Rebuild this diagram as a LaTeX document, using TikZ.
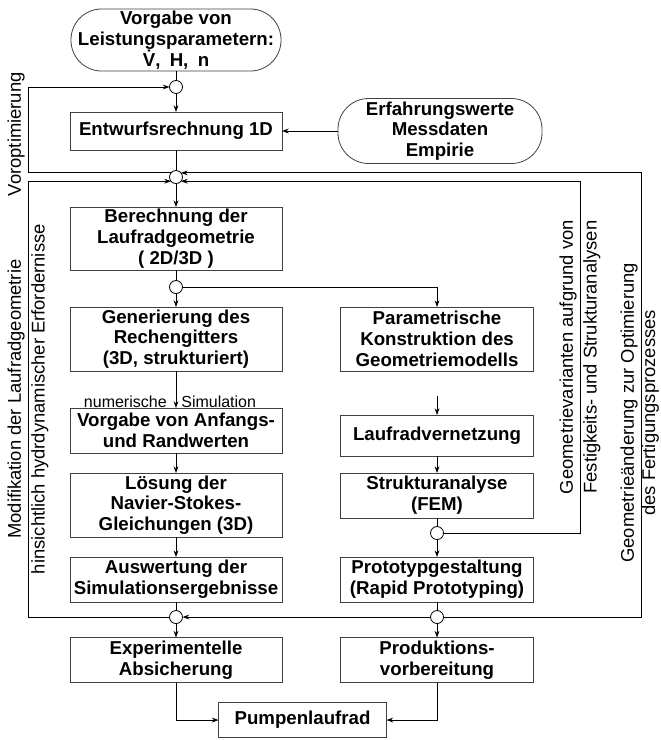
\documentclass[tikz,border=0pt]{standalone}
\usepackage{fontspec}
\setmainfont{Liberation Sans}
\usetikzlibrary{arrows.meta, positioning, calc}

\begin{document}
\begin{tikzpicture}[
  x=0.75pt, y=-0.75pt,
  font=\bfseries\fontsize{14}{15.6}\selectfont,
  every node/.append style={outer sep=0pt},
  stepbox/.style={rectangle, draw=black!75, line width=0.6pt, align=center,
    inner sep=1.5pt},
  leftbox/.style={stepbox, minimum width=159pt},
  rightbox/.style={stepbox, minimum width=144.75pt},
  terminal/.style={rectangle, rounded corners=23pt, draw=black!75,
    line width=0.6pt, align=center, inner sep=1.5pt},
  junction/.style={circle, draw, line width=0.6pt, minimum size=9.75pt,
    inner sep=0pt},
  conn/.style={line width=0.7pt},
  arrow/.style={-{Stealth[length=5pt, width=3.6pt]}, line width=0.7pt},
  looplabel/.style={font=\mdseries\fontsize{13.8}{16}\selectfont, sloped,
    inner sep=2.5pt},
  simlabel/.style={font=\mdseries\fontsize{12}{13}\selectfont, inner sep=2pt}
]
  \useasboundingbox (0,0) rectangle (661,740);

  % x positions of the feedback loops
  \coordinate (lx) at (28,0);
  \coordinate (gx) at (580,0);
  \coordinate (fx) at (641,0);

  \node[terminal, minimum width=157.5pt, minimum height=46.5pt] (start) at (176,40)
    {Vorgabe von\\Leistungsparametern:\\\.{V},\enspace H,\enspace n};
  \node[junction, below=7.1pt of start] (c1) {};
  \node[leftbox, minimum height=28.5pt, below=13.9pt of c1] (entwurf) {Entwurfsrechnung 1D};
  \node[terminal, minimum width=153pt, minimum height=48.75pt, right=42pt of entwurf]
    (erfahrung) {Erfahrungswerte\\Messdaten\\Empirie};
  \node[junction, below=15.4pt of entwurf] (c2) {};
  \node[leftbox, minimum height=47.25pt, below=17.6pt of c2] (berechnung)
    {Berechnung der\\Laufradgeometrie\\( 2D/3D )};
  \node[junction, below=7.9pt of berechnung] (c3) {};

  % left column: simulation
  \node[leftbox, minimum height=48pt, below=10.1pt of c3] (gitter)
    {Generierung des\\Rechengitters\\(3D, strukturiert)};
  \node[leftbox, minimum height=33.75pt, below=27.75pt of gitter] (randwerte)
    {Vorgabe von Anfangs-\\und Randwerten};
  \node[leftbox, minimum height=48pt, below=15pt of randwerte] (loesung)
    {Lösung der\\Navier-Stokes-\\Gleichungen (3D)};
  \node[leftbox, minimum height=33.75pt, below=15pt of loesung] (auswertung)
    {Auswertung der\\Simulationsergebnisse};
  \node[junction, below=6.4pt of auswertung] (c5) {};
  \node[leftbox, minimum height=33.75pt, below=10.5pt of c5] (experiment)
    {Experimentelle\\Absicherung};

  % right column: structure
  \node[rightbox, minimum height=48pt, right=43.9pt of gitter] (param)
    {Parametrische\\Konstruktion des\\Geometriemodells};
  \node[rightbox, minimum height=30.75pt, below=33pt of param] (vernetzung)
    {Laufradvernetzung};
  \node[rightbox, minimum height=33.75pt, below=12.75pt of vernetzung] (struktur)
    {Strukturanalyse\\(FEM)};
  \node[junction, below=6.4pt of struktur] (c4) {};
  \node[rightbox, minimum height=33.75pt, right=43.9pt of auswertung] (prototyp)
    {Prototypgestaltung\\(Rapid Prototyping)};
  \node[junction, below=6.4pt of prototyp] (c6) {};
  \node[rightbox, minimum height=33.75pt, right=43.9pt of experiment] (produktion)
    {Produktions-\\vorbereitung};

  \coordinate (mitte) at ($(experiment.south)!0.5!(produktion.south)$);
  \node[stepbox, minimum width=126pt, minimum height=26.25pt, below=15pt of mitte,
    xshift=-3pt] (pumpe) {Pumpenlaufrad};

  % main flow
  \draw[conn] (start) -- (c1);
  \draw[arrow] (c1) -- (entwurf);
  \draw[arrow] (erfahrung.west) -- (erfahrung.west -| entwurf.east);
  \draw[conn] (entwurf) -- (c2);
  \draw[arrow] (c2) -- (berechnung);
  \draw[conn] (berechnung) -- (c3);
  \draw[arrow] (c3) -- (gitter);
  \draw[arrow] (c3.east) -| (param.north);
  \draw[arrow] (gitter) -- node[simlabel, pos=0.84, left=5pt] {numerische}
    node[simlabel, pos=0.84, right=2pt] {Simulation} (randwerte);
  \draw[arrow] (randwerte) -- (loesung);
  \draw[arrow] (loesung) -- (auswertung);
  \draw[conn] (auswertung) -- (c5);
  \draw[arrow] (c5) -- (experiment);
  \draw[arrow, shorten <=19pt] (param) -- (vernetzung);
  \draw[arrow] (vernetzung) -- (struktur);
  \draw[conn] (struktur) -- (c4);
  \draw[arrow] (c4) -- (prototyp);
  \draw[conn] (prototyp) -- (c6);
  \draw[arrow] (c6) -- (produktion);
  \draw[arrow] (c6) -- (c5);
  \draw[arrow] (experiment.south) |- (pumpe.west);
  \draw[arrow] (produktion.south) |- (pumpe.east);

  % feedback loops
  \draw[arrow] (c2.140) -- (c2.140 -| lx)
    -- node[looplabel, above, pos=0.45] {Voroptimierung} (c1.west -| lx) -- (c1.west);
  \draw[arrow] (c5.west) -- (c5.west -| lx)
    -- node[looplabel, above] {Modifikation der Laufradgeometrie}
       node[looplabel, below] {hinsichtlich hydrdynamischer Erfordernisse}
    (c2.220 -| lx) -- (c2.220);
  \draw[arrow] (c4.east) -- (c4.east -| gx)
    -- node[looplabel, above] {Geometrievarianten aufgrund von}
       node[looplabel, below] {Festigkeits- und Strukturanalysen}
    (c2.320 -| gx) -- (c2.320);
  \draw[arrow] (c6.east) -- (c6.east -| fx)
    -- node[looplabel, above, pos=0.46] {Geometrieänderung zur Optimierung}
       node[looplabel, below, pos=0.46, inner sep=0.6pt] {des Fertigungsprozesses}
    (c2.40 -| fx) -- (c2.40);
\end{tikzpicture}
\end{document}
